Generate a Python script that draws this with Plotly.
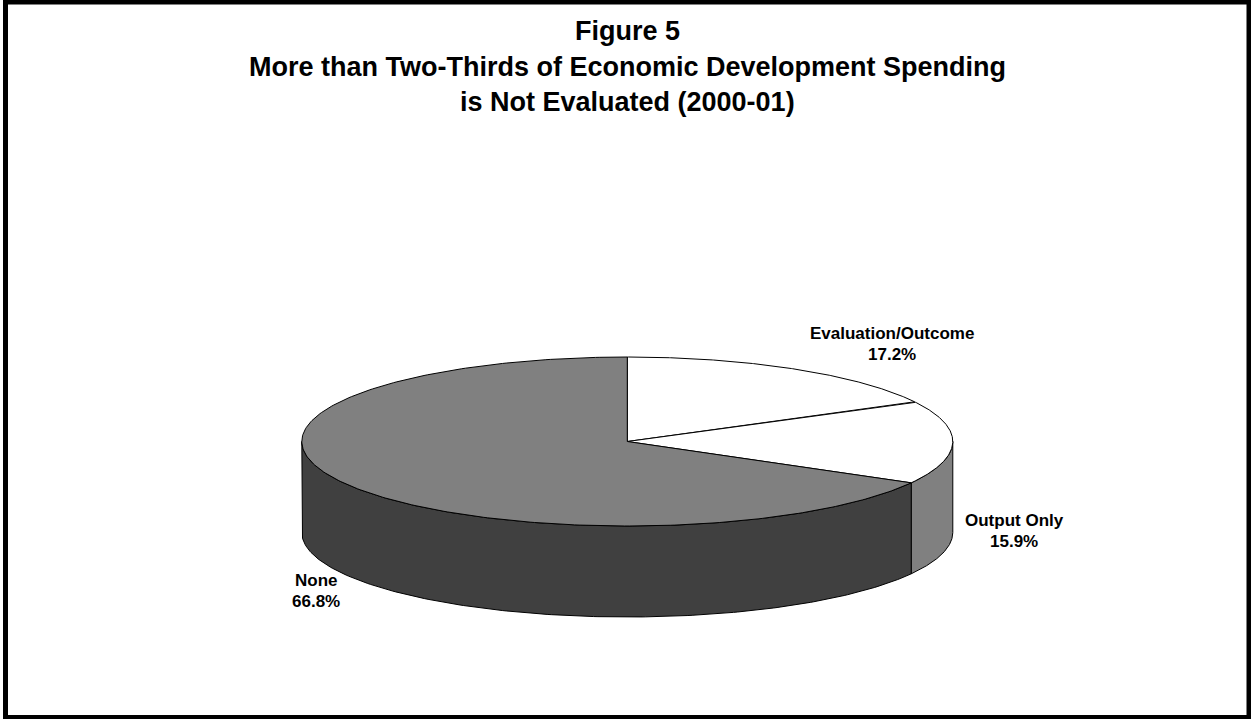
import numpy as np
import plotly.graph_objects as go

# Spending by evaluation type, 2000-01 (percent of total)
categories = ["Evaluation/Outcome", "Output Only", "None"]
shares = [17.2, 15.9, 66.8]
top_colors = ["#ffffff", "#ffffff", "#808080"]
side_colors = ["#808080", "#808080", "#404040"]

title_lines = [
    "Figure 5",
    "More than Two-Thirds of Economic Development Spending",
    "is Not Evaluated (2000-01)",
]

W, H = 1251, 719
FONT = "Arial, 'Liberation Sans', sans-serif"

# Tilted-pie geometry (pixel space, y grows downward)
CX, CY = 627.3, 441.5
RX, RY = 325.5, 84.5
DEPTH = 91

# Label placement for each slice: (x centre, y of first line, y of second line)
label_pos = {
    "Evaluation/Outcome": (892, 333, 354),
    "Output Only": (1014, 520, 541),
    "None": (316, 580, 601),
}


def rim(theta_deg, dy=0.0):
    t = np.radians(theta_deg)
    return CX + RX * np.sin(t), CY - RY * np.cos(t) + dy


total = sum(shares)
bounds = np.concatenate([[0.0], np.cumsum(shares) / total * 360.0])

fig = go.Figure()

# Side walls: only the front half (90..270 deg clockwise from top) is visible
for i, cat in enumerate(categories):
    a, b = bounds[i], bounds[i + 1]
    lo, hi = max(a, 90.0), min(b, 270.0)
    if hi <= lo:
        continue
    th = np.linspace(lo, hi, 200)
    xt, yt = rim(th)
    xb, yb = rim(th[::-1], DEPTH)
    xs = np.concatenate([xt, xb, xt[:1]])
    ys = np.concatenate([yt, yb, yt[:1]])
    fig.add_trace(go.Scatter(
        x=xs, y=ys, mode="lines", fill="toself",
        fillcolor=side_colors[i], line=dict(color="black", width=1),
        hoverinfo="skip", showlegend=False,
    ))

# Top faces
for i, cat in enumerate(categories):
    a, b = bounds[i], bounds[i + 1]
    th = np.linspace(a, b, 300)
    xa, ya = rim(th)
    xs = np.concatenate([[CX], xa, [CX]])
    ys = np.concatenate([[CY], ya, [CY]])
    fig.add_trace(go.Scatter(
        x=xs, y=ys, mode="lines", fill="toself",
        fillcolor=top_colors[i], line=dict(color="black", width=1),
        hoverinfo="skip", showlegend=False, name=cat,
    ))

annotations = []
for cat, val in zip(categories, shares):
    lx, ly1, ly2 = label_pos[cat]
    for txt, ly in ((cat, ly1), (f"{val:.1f}%", ly2)):
        annotations.append(dict(
            x=lx, y=ly, xref="x", yref="y", text=f"<b>{txt}</b>",
            showarrow=False, xanchor="center", yanchor="middle",
            font=dict(family=FONT, size=17, color="black"),
        ))

title_y = [31, 67, 102]
for txt, ty in zip(title_lines, title_y):
    annotations.append(dict(
        x=627, y=ty, xref="x", yref="y", text=f"<b>{txt}</b>",
        showarrow=False, xanchor="center", yanchor="middle",
        font=dict(family=FONT, size=27, color="black"),
    ))

fig.update_layout(
    width=W, height=H,
    margin=dict(l=0, r=0, t=0, b=0),
    paper_bgcolor="white", plot_bgcolor="white",
    xaxis=dict(range=[0, W], visible=False, fixedrange=True),
    yaxis=dict(range=[H, 0], visible=False, fixedrange=True),
    annotations=annotations,
    shapes=[dict(
        type="rect", xref="x", yref="y",
        x0=5.5, x1=1249, y0=2, y1=717.5,
        line=dict(color="black", width=5), fillcolor="rgba(0,0,0,0)",
        layer="above",
    )],
)

fig.write_html("out.html")
